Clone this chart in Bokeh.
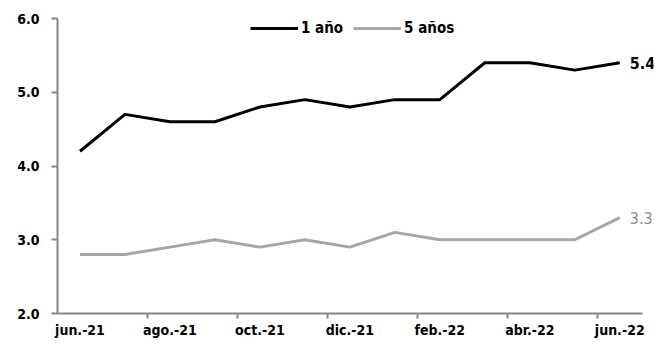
from bokeh.plotting import figure
from bokeh.models import FixedTicker, Range1d, Legend, LegendItem, Label, CustomJSTickFormatter
from bokeh.embed import file_html
from bokeh.resources import INLINE

months = ["jun.-21", "jul.-21", "ago.-21", "sep.-21", "oct.-21", "nov.-21", "dic.-21",
          "ene.-22", "feb.-22", "mar.-22", "abr.-22", "may.-22", "jun.-22"]
one_year = [4.2, 4.7, 4.6, 4.6, 4.8, 4.9, 4.8, 4.9, 4.9, 5.4, 5.4, 5.3, 5.4]
five_years = [2.8, 2.8, 2.9, 3.0, 2.9, 3.0, 2.9, 3.1, 3.0, 3.0, 3.0, 3.0, 3.3]
series_names = ["1 año", "5 años"]
y_ticks = [2.0, 3.0, 4.0, 5.0, 6.0]

FONT = "DejaVu Sans Condensed"
AXIS_COLOR = "#868686"
BLACK = "#000000"
GRAY = "#A6A6A6"

x = list(range(len(months)))

p = figure(width=655, height=347, output_backend="svg", toolbar_location=None,
           x_range=Range1d(-0.5, len(months) - 0.25), y_range=Range1d(2.0, 6.0),
           min_border_left=57, min_border_right=2, min_border_top=18, min_border_bottom=34)
p.outline_line_color = None
p.xgrid.visible = False
p.ygrid.visible = False
p.background_fill_color = "white"
p.border_fill_color = "white"

r1 = p.line(x, one_year, line_color=BLACK, line_width=3)
r2 = p.line(x, five_years, line_color=GRAY, line_width=3)

# x axis: labels every two months, tick marks between categories
label_idx = [i for i in x if i % 2 == 0]
between = [i - 0.5 for i in x if i % 2 == 0 and i > 0]
p.xaxis.bounds = (-0.5, len(months) - 0.5)
p.xaxis.ticker = FixedTicker(ticks=label_idx, minor_ticks=between)
p.xaxis.formatter = CustomJSTickFormatter(args=dict(labels=months),
                                          code="return labels[Math.round(tick)];")
p.xaxis.axis_line_color = AXIS_COLOR
p.xaxis.axis_line_width = 2
p.xaxis.major_tick_line_color = None
p.xaxis.major_tick_out = 5
p.xaxis.major_tick_in = 0
p.xaxis.minor_tick_line_color = AXIS_COLOR
p.xaxis.minor_tick_line_width = 2
p.xaxis.minor_tick_out = 5
p.xaxis.minor_tick_in = 0
p.xaxis.major_label_standoff = 3
p.xaxis.major_label_text_font = FONT
p.xaxis.major_label_text_font_style = "bold"
p.xaxis.major_label_text_font_size = "14px"
p.xaxis.major_label_text_color = BLACK

p.yaxis.ticker = FixedTicker(ticks=y_ticks, minor_ticks=[])
p.yaxis.formatter = CustomJSTickFormatter(code="return tick.toFixed(1);")
p.yaxis.axis_line_color = AXIS_COLOR
p.yaxis.axis_line_width = 2
p.yaxis.major_tick_line_color = AXIS_COLOR
p.yaxis.major_tick_line_width = 2
p.yaxis.major_tick_out = 6
p.yaxis.major_tick_in = 0
p.yaxis.minor_tick_line_color = None
p.yaxis.major_label_standoff = 12
p.yaxis.major_label_text_font = FONT
p.yaxis.major_label_text_font_style = "bold"
p.yaxis.major_label_text_font_size = "14px"
p.yaxis.major_label_text_color = BLACK

legend = Legend(items=[LegendItem(label=series_names[0], renderers=[r1]),
                       LegendItem(label=series_names[1], renderers=[r2])],
                orientation="horizontal", location=(193, 276),
                padding=0, margin=0, spacing=10, label_standoff=3,
                glyph_width=48, glyph_height=18,
                label_text_font=FONT, label_text_font_style="bold",
                label_text_font_size="15px", label_text_color=BLACK,
                background_fill_alpha=0, border_line_color=None)
p.add_layout(legend)

p.add_layout(Label(x=x[-1], y=one_year[-1], text=f"{one_year[-1]:.1f}", x_offset=10,
                   text_baseline="middle", text_font=FONT, text_font_style="bold",
                   text_font_size="16px", text_color=BLACK))
p.add_layout(Label(x=x[-1], y=five_years[-1], text=f"{five_years[-1]:.1f}", x_offset=10,
                   text_baseline="middle", text_font=FONT,
                   text_font_size="16px", text_color="#8C8C8C"))

open("out.html", "w").write(file_html(p, INLINE))
